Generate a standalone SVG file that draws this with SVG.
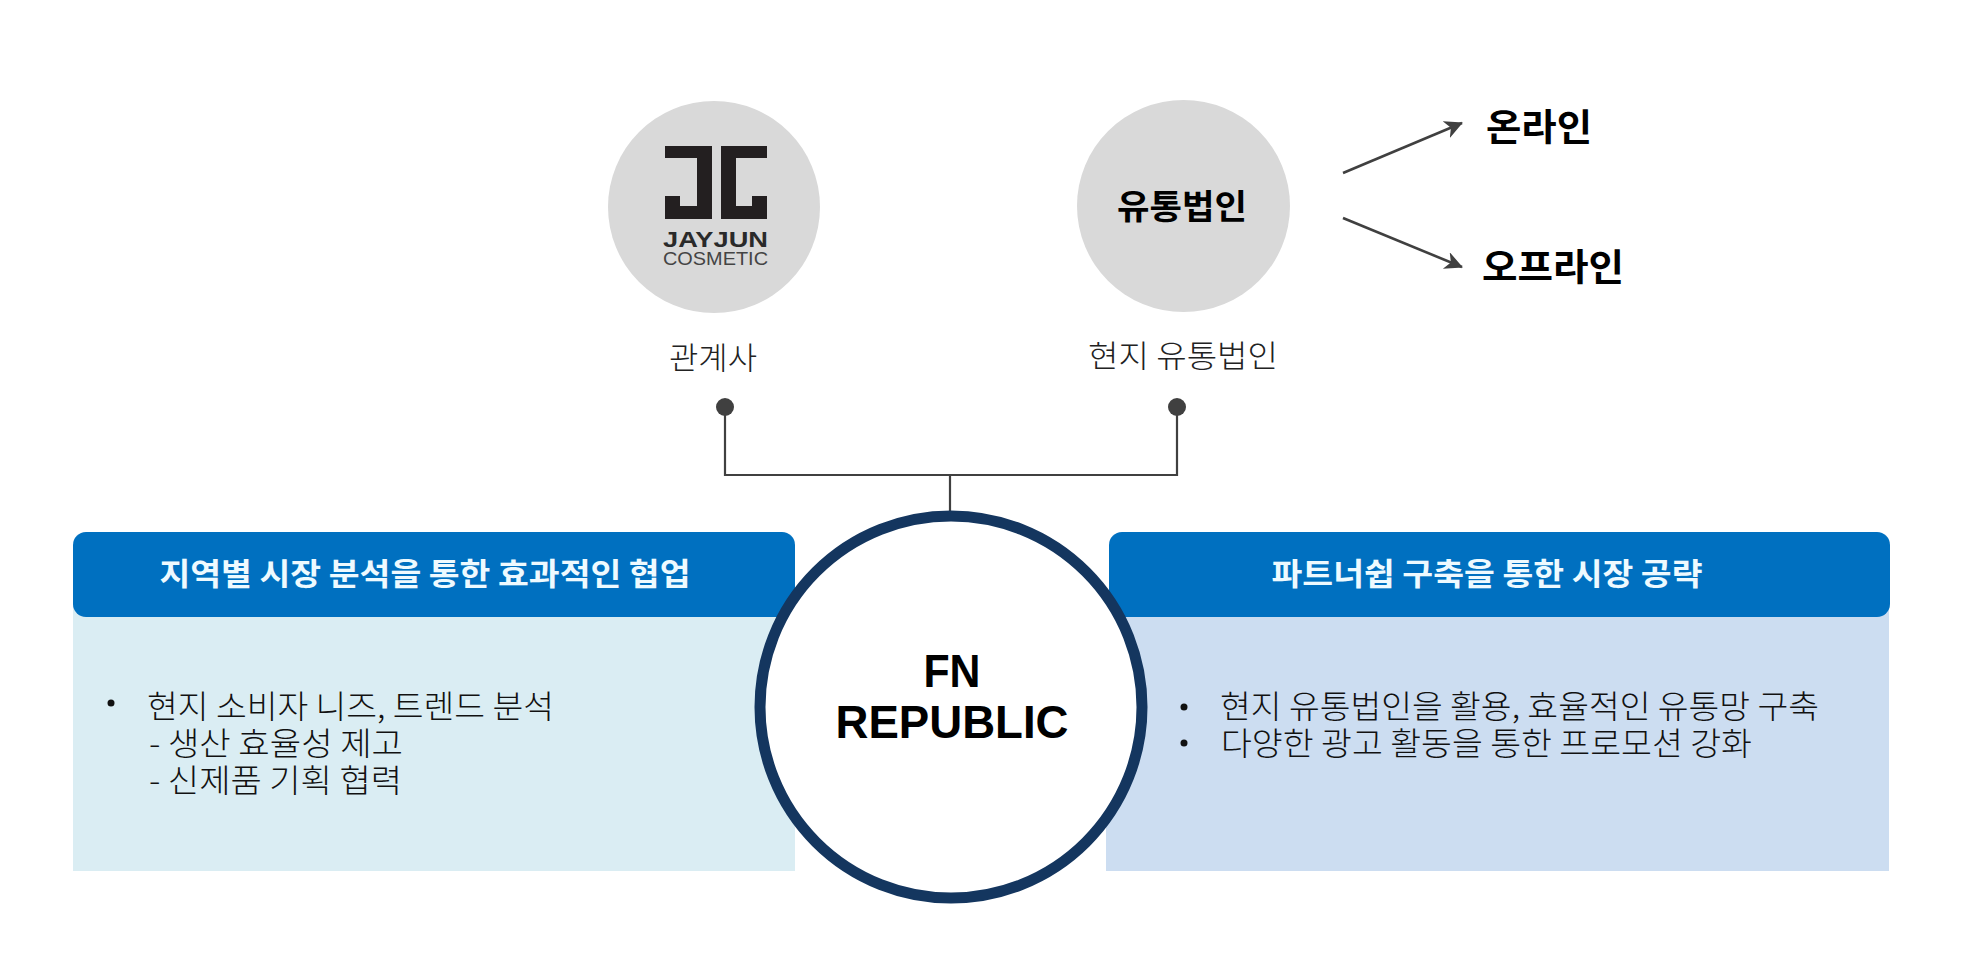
<svg xmlns="http://www.w3.org/2000/svg" width="1971" height="967" viewBox="0 0 1971 967">
<style>
text{font-family:"Noto Sans CJK KR","Liberation Sans",sans-serif;fill:#111}
.body{font-size:32px;font-weight:300}
.cap{font-size:31px;font-weight:300;text-anchor:middle;fill:#222}
.hd{font-size:31px;font-weight:700;fill:#eefaff;text-anchor:middle}
.big{font-size:37px;font-weight:700;fill:#000}
.ln{fill:none;stroke:#404040;stroke-width:2.2}
.ar{fill:none;stroke:#404040;stroke-width:2.6;marker-end:url(#a)}
.fn{font-family:"Liberation Sans",sans-serif;font-size:46px;font-weight:700;text-anchor:middle;fill:#000}
</style>
<defs>
<marker id="a" markerUnits="userSpaceOnUse" markerWidth="20" markerHeight="20" refX="17" refY="9" orient="auto"><path d="M0 0L18 9L0 18L5 9Z" fill="#404040"/></marker>
</defs>
<rect width="1971" height="967" fill="#fff"/>
<g id="panel-left">
<rect x="73" y="600" width="722" height="271" fill="#daedf3"/>
<rect x="73" y="532" width="722" height="85" rx="13" fill="#0070c0"/>
<text class="hd" x="425" y="585" textLength="531" lengthAdjust="spacingAndGlyphs">지역별 시장 분석을 통한 효과적인 협업</text>
<circle cx="111" cy="703" r="3.5" fill="#111"/>
<text class="body" x="147" y="718" textLength="407" lengthAdjust="spacingAndGlyphs">현지 소비자 니즈, 트렌드 분석</text>
<text class="body" x="149" y="755" textLength="254" lengthAdjust="spacingAndGlyphs">- 생산 효율성 제고</text>
<text class="body" x="149" y="792" textLength="253" lengthAdjust="spacingAndGlyphs">- 신제품 기획 협력</text>
</g>
<g id="panel-right">
<rect x="1106" y="600" width="783" height="271" fill="#ccddf1"/>
<rect x="1109" y="532" width="781" height="85" rx="13" fill="#0070c0"/>
<text class="hd" x="1487" y="585" textLength="431" lengthAdjust="spacingAndGlyphs">파트너쉽 구축을 통한 시장 공략</text>
<circle cx="1184" cy="707" r="3.5" fill="#111"/>
<circle cx="1184" cy="743" r="3.5" fill="#111"/>
<text class="body" x="1220" y="718" textLength="599" lengthAdjust="spacingAndGlyphs">현지 유통법인을 활용, 효율적인 유통망 구축</text>
<text class="body" x="1221" y="755" textLength="531" lengthAdjust="spacingAndGlyphs">다양한 광고 활동을 통한 프로모션 강화</text>
</g>
<g id="connectors">
<path class="ln" d="M725 407V475H1177V407M950 475V512"/>
<circle cx="725" cy="407" r="9" fill="#404040"/>
<circle cx="1177" cy="407" r="9" fill="#404040"/>
<path class="ar" d="M1343 173L1462 123"/>
<path class="ar" d="M1343 218L1462 267"/>
</g>
<g id="node-center">
<circle cx="951" cy="707" r="191" fill="#fff" stroke="#14365f" stroke-width="11"/>
<text class="fn" x="952" y="687" textLength="57" lengthAdjust="spacingAndGlyphs">FN</text>
<text class="fn" x="952" y="738" textLength="233" lengthAdjust="spacingAndGlyphs">REPUBLIC</text>
</g>
<g id="node-jayjun">
<circle cx="714" cy="207" r="106" fill="#d9d9d9"/>
<path d="M665 146H712V219H665V196H680V206H697V158H665Z" fill="#231f20"/>
<path d="M767 146H721V219H767V196H752V206H736V158H767Z" fill="#231f20"/>
<text x="715.5" y="247" text-anchor="middle" textLength="105" lengthAdjust="spacingAndGlyphs" style="font-family:'Liberation Sans',sans-serif;font-size:22px;font-weight:700;fill:#2a2a2a">JAYJUN</text>
<text x="715.5" y="265" text-anchor="middle" textLength="105" lengthAdjust="spacingAndGlyphs" style="font-family:'Liberation Sans',sans-serif;font-size:19px;fill:#444">COSMETIC</text>
<text class="cap" x="713" y="369" textLength="88" lengthAdjust="spacingAndGlyphs">관계사</text>
</g>
<g id="node-dist">
<ellipse cx="1183.5" cy="206" rx="106.5" ry="106" fill="#d9d9d9"/>
<text x="1182" y="219" text-anchor="middle" textLength="130" lengthAdjust="spacingAndGlyphs" style="font-size:34px;font-weight:700;fill:#000">유통법인</text>
<text class="cap" x="1183" y="367" textLength="190" lengthAdjust="spacingAndGlyphs">현지 유통법인</text>
</g>
<g id="node-online"><text class="big" x="1486" y="141" textLength="106" lengthAdjust="spacingAndGlyphs">온라인</text></g>
<g id="node-offline"><text class="big" x="1482" y="281" textLength="142" lengthAdjust="spacingAndGlyphs">오프라인</text></g>
</svg>
